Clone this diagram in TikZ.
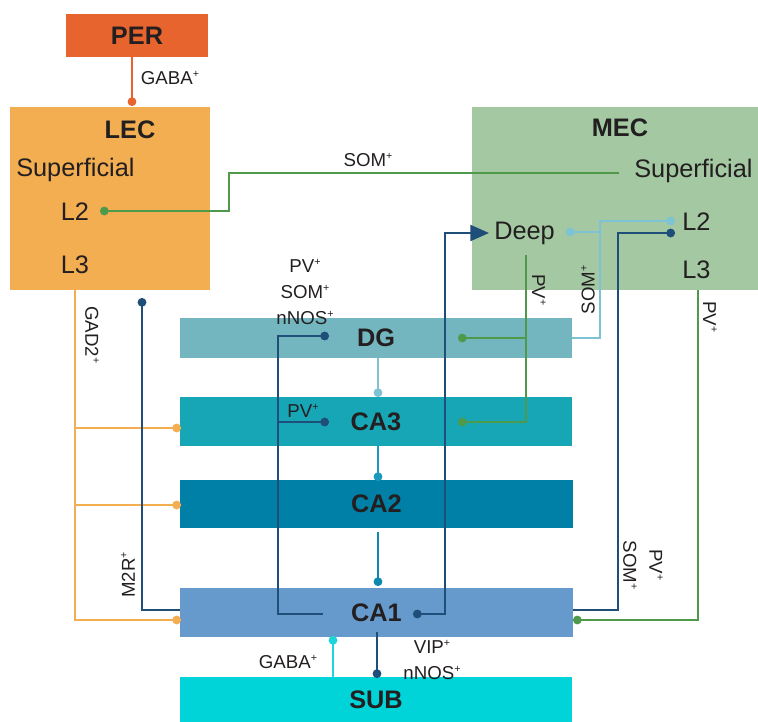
\documentclass[tikz,border=0pt]{standalone}
\usepackage{fontspec}
\setmainfont{Liberation Sans}
\usepackage{xcolor}
\usepackage{tikz}
\usetikzlibrary{arrows.meta,positioning}
\definecolor{perred}{HTML}{E8642F}
\definecolor{lecorange}{HTML}{F3AE52}
\definecolor{mecgreen}{HTML}{A3C8A2}
\definecolor{dgblue}{HTML}{74B6BF}
\definecolor{cathree}{HTML}{17A6B6}
\definecolor{catwo}{HTML}{0080A6}
\definecolor{caone}{HTML}{6699CC}
\definecolor{subcyan}{HTML}{00D4D9}
\definecolor{linegreen}{HTML}{4E9A4A}
\definecolor{navy}{HTML}{1F4E79}
\definecolor{lightblue}{HTML}{7EC3D3}
\definecolor{tealline}{HTML}{1B98BD}
\definecolor{deepteal}{HTML}{0F88AE}
\definecolor{cyanline}{HTML}{1ED5DB}
\definecolor{textgray}{HTML}{231F20}
\newcommand{\posmark}{\raisebox{0.75ex}{\fontsize{8}{8}\selectfont +}}

\begin{document}
\begin{tikzpicture}[x=0.75pt, y=-0.75pt,
    region/.style={rectangle, inner sep=0pt, text=textgray, font=\fontsize{19}{22}\selectfont\bfseries},
    layer/.style={inner sep=0pt, text=textgray, font=\fontsize{19}{22}\selectfont},
    lbl/.style={inner sep=0pt, text=textgray, font=\fontsize{14}{19.5}\selectfont, align=center},
    con/.style={line width=1.6pt},
    dotin/.style={con, -{Circle[length=6.5pt]}},
    dotout/.style={con, {Circle[length=6.5pt]}-}]
\useasboundingbox (0,0) rectangle (758,722);
% cortex
\node[region, fill=perred, minimum width=106.5pt, minimum height=32.25pt] (per) at (137,35.5) {PER};
\node[region, fill=lecorange, minimum width=150pt, minimum height=137.25pt] (lec) at (110,198.5) {};
\node[region, fill=mecgreen, minimum width=214.5pt, minimum height=137.25pt] (mec) at (615,198.5) {};
\node[region] (lectitle) at (130,130) {LEC};
\node[layer, anchor=west] (lecsup) at (16,170) {Superficial};
\node[layer] (lecl2) at (75,212) {L2};
\node[layer] (lecl3) at (75,265) {L3};
\node[region] (mectitle) at (620,128) {MEC};
\node[layer, anchor=west] (mecsup) at (634,171) {Superficial};
\node[layer, anchor=west] (deep) at (494,233) {Deep};
\node[layer, anchor=west] (mecl2) at (682,222) {L2};
\node[layer, anchor=west] (mecl3) at (682,270) {L3};
% hippocampus
\node[region, fill=dgblue, minimum width=294pt, minimum height=30pt] (dg) at (376,338) {DG};
\node[region, fill=cathree, minimum width=294pt, minimum height=36.75pt] (ca3) at (376,421.5) {CA3};
\node[region, fill=catwo, minimum width=294.75pt, minimum height=36pt] (ca2) at (376.5,504) {CA2};
\node[region, fill=caone, minimum width=294.75pt, minimum height=36.75pt] (ca1) at (376.5,612.5) {CA1};
\node[region, fill=subcyan, minimum width=294pt, minimum height=33.75pt] (sub) at (376,699.5) {SUB};
% ports
\coordinate (per-lec) at (132,106);
\coordinate (lec-l2) at (100,211);
\coordinate (mec-sup) at (619,173);
\coordinate (ca1-out) at (413,614);
\coordinate (deep-in) at (489,233);
\coordinate (deep-pv) at (526,255);
\coordinate (dg-pv) at (458,338);
\coordinate (ca3-pv) at (458,422);
\coordinate (deep-som) at (566,232);
\coordinate (mecl2-som) at (675,221);
\coordinate (ca1-r) at (573,610);
\coordinate (mecl2-pv) at (675,233);
\coordinate (mecl3-pv) at (698,290);
\coordinate (ca1-pv) at (573,620);
\coordinate (lecl3-out) at (75,290);
\coordinate (ca3-gad) at (181,428);
\coordinate (ca2-gad) at (181,505);
\coordinate (ca1-gad) at (181,620);
\coordinate (m2r) at (142,298);
\coordinate (ca1-m2r) at (180,610);
\coordinate (ca1-in) at (323,614);
\coordinate (dg-in) at (329,336);
\coordinate (ca3-in) at (329,422);
\coordinate (dg-ca3) at (378,397);
\coordinate (ca3-ca2) at (378,481);
\coordinate (ca2-bot) at (378,532);
\coordinate (ca2-ca1) at (378,586);
\coordinate (ca1-sub) at (377,632);
\coordinate (sub-in) at (377,678);
\coordinate (sub-ca1) at (333,636);
% connectors
\draw[dotin, perred] (per.south -| per-lec) -- (per-lec);
\draw[dotout, linegreen] (lec-l2) -- ++(129,0) |- (mec-sup);
\draw[con, navy, {Circle[length=6.5pt]}-{Triangle[length=14pt,width=12pt]}] (ca1-out) -- ++(32,0) |- (deep-in);
\draw[dotin, linegreen] (deep-pv) |- (ca3-pv);
\draw[dotin, linegreen] (deep-pv |- dg-pv) -- (dg-pv);
\draw[dotin, lightblue] (dg.east) -- ++(28,0) |- (mecl2-som);
\draw[dotout, lightblue] (deep-som) -- ++(34,0);
\draw[dotin, navy] (ca1-r) -- ++(45,0) |- (mecl2-pv);
\draw[dotin, linegreen] (mecl3-pv) |- (ca1-pv);
\draw[dotin, lecorange] (lecl3-out) |- (ca1-gad);
\draw[dotin, lecorange] (lecl3-out |- ca3-gad) -- (ca3-gad);
\draw[dotin, lecorange] (lecl3-out |- ca2-gad) -- (ca2-gad);
\draw[dotout, navy] (m2r) |- (ca1-m2r);
\draw[dotin, navy] (ca1-in) -- ++(-45,0) |- (dg-in);
\draw[dotout, navy] (ca3-in) -- ++(-51,0);
\draw[dotin, lightblue] (dg.south -| dg-ca3) -- (dg-ca3);
\draw[dotin, tealline] (ca3.south -| ca3-ca2) -- (ca3-ca2);
\draw[dotin, deepteal] (ca2-bot) -- (ca2-ca1);
\draw[dotin, navy] (ca1-sub) -- (sub-in);
\draw[dotin, cyanline] (sub.north -| sub-ca1) -- (sub-ca1);
% labels
\node[lbl] at (170,78) {GABA\posmark};
\node[lbl] at (368,160) {SOM\posmark};
\node[lbl, rotate=-90] at (539,290) {PV\posmark};
\node[lbl, rotate=90] at (588,290) {SOM\posmark};
\node[lbl, rotate=-90] at (643,565) {PV\posmark\\SOM\posmark};
\node[lbl, rotate=-90] at (710,317) {PV\posmark};
\node[lbl, rotate=-90] at (92,335) {GAD2\posmark};
\node[lbl, rotate=90] at (128,575) {M2R\posmark};
\node[lbl] at (305,292) {PV\posmark\\SOM\posmark\\nNOS\posmark};
\node[lbl] at (303,411) {PV\posmark};
\node[lbl] at (432,660) {VIP\posmark\\nNOS\posmark};
\node[lbl] at (288,662) {GABA\posmark};
\end{tikzpicture}
\end{document}
